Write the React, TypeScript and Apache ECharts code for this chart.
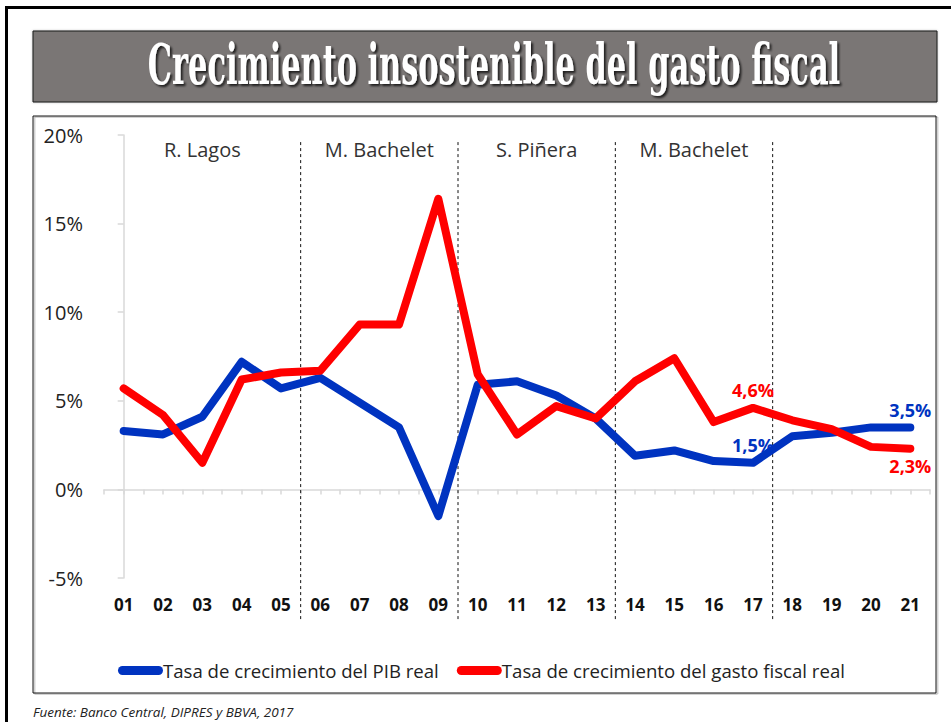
import React, { useEffect, useRef } from "react";
import * as echarts from "echarts";

const titleText = "Crecimiento insostenible del gasto fiscal";
const sourceText = "Fuente: Banco Central, DIPRES y BBVA, 2017";

const years = ["01","02","03","04","05","06","07","08","09","10","11","12","13","14","15","16","17","18","19","20","21"];
const pibName = "Tasa de crecimiento del PIB real";
const gastoName = "Tasa de crecimiento del gasto fiscal real";
const pibReal = [3.3, 3.1, 4.1, 7.2, 5.7, 6.3, 4.9, 3.5, -1.5, 5.9, 6.1, 5.3, 4.0, 1.9, 2.2, 1.6, 1.5, 3.0, 3.2, 3.5, 3.5];
const gastoFiscal = [5.7, 4.2, 1.5, 6.2, 6.6, 6.7, 9.3, 9.3, 16.4, 6.5, 3.1, 4.7, 4.0, 6.1, 7.4, 3.8, 4.6, 3.9, 3.4, 2.4, 2.3];

const yMin = -5;
const yMax = 20;
const yStep = 5;

const periodNames = ["R. Lagos", "M. Bachelet", "S. Piñera", "M. Bachelet"];
const periodFirst = ["01", "06", "10", "14"];
const periodLast = ["05", "09", "13", "17"];
const dividerAfter = ["05", "09", "13", "17"];

const pibLabelled: Record<string, string> = { "17": "top", "21": "top" };
const gastoLabelled: Record<string, string> = { "17": "top", "21": "bottom" };

const BLUE = "#0033c0";
const RED = "#ff0000";

const fmt = (v: number) => `${v.toFixed(1).replace(".", ",")}%`;

function buildData(values: number[], labelled: Record<string, string>, color: string) {
  return values.map((v, i) => {
    const pos = labelled[years[i]];
    if (!pos) return v;
    return {
      value: v,
      label: {
        show: true,
        position: pos,
        distance: 8,
        formatter: (p: any) => fmt(p.value),
        color,
        fontWeight: "bold",
        fontSize: 18,
        fontFamily: "Open Sans",
      },
    };
  });
}

export default function App() {
  const ref = useRef<HTMLDivElement>(null);

  useEffect(() => {
    if (!ref.current) return;
    const chart = echarts.init(ref.current, null, { renderer: "svg" });

    const titleFont = 'bold 56px "DejaVu Serif"';
    const ctx = document.createElement("canvas").getContext("2d")!;
    ctx.font = titleFont;
    const tw = ctx.measureText(titleText).width || 1000;
    const titleScale = 692 / tw;

    const periodData = periodNames.map((_, i) => [
      (years.indexOf(periodFirst[i]) + years.indexOf(periodLast[i])) / 2,
      19.2,
    ]);
    const dividerData = dividerAfter.map((y) => [years.indexOf(y) + 0.5, 0]);

    chart.setOption({
      animation: false,
      textStyle: { fontFamily: "Open Sans" },
      grid: { left: 104, right: 21, top: 135, bottom: 144 },
      legend: {
        data: [pibName, gastoName],
        left: 113,
        top: 656,
        itemWidth: 45,
        itemHeight: 9,
        itemGap: 18,
        icon: "path://M4.5,0 L40.5,0 A4.5,4.5 0 0 1 40.5,9 L4.5,9 A4.5,4.5 0 0 1 4.5,0 Z",
        textStyle: { fontSize: 18.6, color: "#222", fontFamily: "Open Sans", padding: [0, 0, 0, -5] },
      },
      xAxis: [
        {
          type: "category",
          data: years,
          position: "bottom",
          boundaryGap: true,
          axisLine: { show: false, onZero: false },
          axisTick: { show: false },
          axisLabel: {
            margin: 18,
            fontSize: 17,
            fontWeight: "bold",
            color: "#111",
            fontFamily: "Open Sans",
            interval: 0,
          },
          splitLine: { show: false },
        },
        {
          type: "value",
          position: "bottom",
          min: -0.5,
          max: years.length - 0.5,
          interval: 0.5,
          axisLine: { show: true, onZero: true, lineStyle: { color: "#d9d9d9", width: 1.5 } },
          axisTick: { show: true, length: 5, lineStyle: { color: "#d9d9d9", width: 1.5 } },
          axisLabel: { show: false },
          splitLine: { show: false },
        },
      ],
      yAxis: {
        type: "value",
        min: yMin,
        max: yMax,
        interval: yStep,
        axisLine: { show: true, lineStyle: { color: "#d9d9d9", width: 1.5 } },
        axisTick: { show: true, length: 6, lineStyle: { color: "#d9d9d9", width: 1.5 } },
        splitLine: { show: false },
        axisLabel: {
          formatter: (v: number) => `${v}%`,
          fontSize: 20,
          color: "#222",
          margin: 21,
          fontFamily: "Open Sans",
        },
      },
      series: [
        {
          type: "custom",
          name: "dividers",
          xAxisIndex: 1,
          clip: false,
          silent: true,
          data: dividerData,
          renderItem: (params: any, api: any) => {
            const x = api.value(0);
            const top = api.coord([x, 19.6]);
            const bot = api.coord([x, -7.4]);
            return {
              type: "line",
              shape: { x1: top[0], y1: top[1], x2: bot[0], y2: bot[1] },
              style: { stroke: "#111", lineWidth: 1, lineDash: [3, 3] },
            };
          },
          z: 1,
        },
        {
          type: "custom",
          name: "periods",
          xAxisIndex: 1,
          clip: false,
          silent: true,
          data: periodData,
          renderItem: (params: any, api: any) => {
            const p = api.coord([api.value(0), api.value(1)]);
            return {
              type: "text",
              x: p[0],
              y: p[1],
              style: {
                text: periodNames[params.dataIndex],
                fill: "#333",
                fontSize: 20,
                fontFamily: "Open Sans",
                align: "center",
                verticalAlign: "middle",
              },
            };
          },
          z: 1,
        },
        {
          type: "line",
          name: pibName,
          xAxisIndex: 0,
          data: buildData(pibReal, pibLabelled, BLUE),
          symbol: "circle",
          symbolSize: 1,
          showSymbol: true,
          itemStyle: { color: BLUE },
          lineStyle: { color: BLUE, width: 8, cap: "round", join: "round" },
          z: 3,
        },
        {
          type: "line",
          name: gastoName,
          xAxisIndex: 0,
          data: buildData(gastoFiscal, gastoLabelled, RED),
          symbol: "circle",
          symbolSize: 1,
          showSymbol: true,
          itemStyle: { color: RED },
          lineStyle: { color: RED, width: 8, cap: "round", join: "round" },
          z: 4,
        },
      ],
      graphic: [
        {
          type: "rect",
          shape: { x: 6.5, y: 7.5, width: 1000, height: 1000 },
          style: { fill: "none", stroke: "#000", lineWidth: 3 },
          silent: true,
          z: -10,
        },
        {
          type: "rect",
          shape: { x: 33, y: 31, width: 904, height: 71 },
          style: {
            fill: "#7a7674",
            stroke: "#1a1a1a",
            lineWidth: 1,
            shadowColor: "rgba(0,0,0,0.25)",
            shadowBlur: 2,
          },
          silent: true,
          z: -5,
        },
        {
          type: "text",
          x: 494,
          y: 65,
          scaleX: titleScale,
          style: {
            text: titleText,
            fill: "#ffffff",
            font: titleFont,
            align: "center",
            verticalAlign: "middle",
            textShadowColor: "rgba(0,0,0,0.75)",
            textShadowBlur: 2,
            textShadowOffsetX: 2,
            textShadowOffsetY: 2,
          },
          silent: true,
          z: -4,
        },
        {
          type: "rect",
          shape: { x: 33, y: 116, width: 903, height: 577 },
          style: {
            fill: "none",
            stroke: "#111",
            lineWidth: 1,
            shadowColor: "rgba(0,0,0,0.35)",
            shadowOffsetX: 1.5,
            shadowOffsetY: 1,
            shadowBlur: 1,
          },
          silent: true,
          z: -5,
        },
        {
          type: "text",
          x: 33,
          y: 712,
          style: {
            text: sourceText,
            fill: "#222",
            fontSize: 13.5,
            fontStyle: "italic",
            fontFamily: "Open Sans",
            align: "left",
            verticalAlign: "middle",
          },
          silent: true,
        },
      ],
    });

    return () => chart.dispose();
  }, []);

  return (
    <div
      ref={ref}
      style={{ position: "fixed", left: 0, top: 0, width: 951, height: 722, background: "#fff" }}
    />
  );
}
